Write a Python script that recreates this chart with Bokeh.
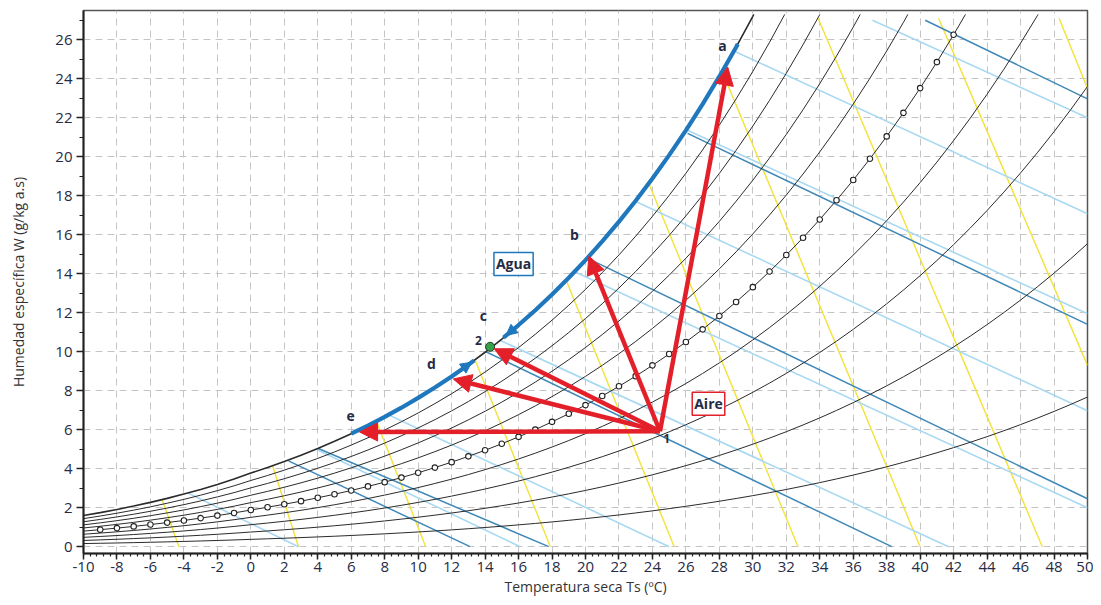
import numpy as np
from bokeh.plotting import figure
from bokeh.models import Range1d, FixedTicker, Arrow, NormalHead, Label
from bokeh.embed import file_html
from bokeh.resources import INLINE

# ---------------- data ----------------
# saturation vapour pressure (kPa), -10..50 degC (over ice below 0 degC)
temps = list(range(-10, 51))
psat = [0.2599, 0.2839, 0.3100, 0.3382, 0.3687, 0.4019, 0.4375, 0.4761, 0.5177, 0.5623,
        0.6112, 0.6571, 0.7060, 0.7581, 0.8135, 0.8725, 0.9353, 1.0020, 1.0729, 1.1481,
        1.2280, 1.3128, 1.4026, 1.4979, 1.5987, 1.7055, 1.8185, 1.9380, 2.0643, 2.1978,
        2.3388, 2.4877, 2.6448, 2.8104, 2.9851, 3.1692, 3.3631, 3.5673, 3.7822, 4.0083,
        4.2460, 4.4959, 4.7585, 5.0343, 5.3239, 5.6278, 5.9466, 6.2810, 6.6315, 6.9987,
        7.3835, 7.7863, 8.2080, 8.6492, 9.1107, 9.5932, 10.0976, 10.6246, 11.1751, 11.7500, 12.3499]
rh_levels = [10, 20, 30, 40, 50, 60, 70, 80, 90, 100]
marked_rh = 50
marked_temps = list(range(-9, 43))
P_ATM = 101.325
W_TOP = 27.3

# specific-volume lines (yellow): start / end
yel_x0 = [-5.3, 1.3, 7.5, 13.4, 18.85, 23.8, 28.2, 33.9, 41.1, 48.3]
yel_y0 = [2.42, 4.15, 6.43, 9.58, 13.65, 18.6, 24.3, 27.1, 27.1, 27.1]
yel_x1 = [-4.3, 2.85, 10.45, 17.9, 25.3, 32.7, 40.0, 47.3, 50.0, 50.0]
yel_y1 = [0, 0, 0, 0, 0, 0, 0, 0, 9.3, 23.5]

# light blue lines
lb_x0 = [-3.75, 3.9, 8.35, 14.85, 19.35, 23.0, 26.0, 28.97, 37.15]
lb_y0 = [2.75, 5.0, 6.72, 10.6, 14.1, 17.7, 21.4, 25.38, 27.0]
lb_x1 = [2.85, 16.1, 25.0, 41.7, 50.0, 50.0, 50.0, 50.0, 50.0]
lb_y1 = [0, 0, 0, 0, 2.0, 6.97, 11.95, 17.08, 22.0]

# dark blue lines
db_x0 = [2.25, 4.0, 14.05, 20.1, 26.1, 40.3]
db_y0 = [4.4, 5.05, 10.0, 14.8, 21.2, 27.0]
db_x1 = [13.1, 17.8, 38.3, 50.0, 50.0, 50.0]
db_y1 = [0, 0, 0, 2.46, 11.4, 22.97]

# process points
pt1 = (24.45, 5.92)
red_tips_x = [28.5, 20.2, 14.55, 12.1, 6.5]
red_tips_y = [24.6, 14.9, 10.15, 8.6, 5.88]
pt2 = (14.3, 10.25)
agua_upper = (15.1, 29.1)   # temperature span on saturation curve
agua_lower = (6.0, 13.35)
agua_arrow_tips = [15.25, 13.2]

letters = ["a", "b", "c", "d", "e"]
letters_x = [28.19, 19.34, 13.9, 10.8, 5.96]
letters_y = [25.7, 16.0, 11.85, 9.38, 6.72]
num_labels = ["1", "2"]
num_x = [24.85, 13.6]
num_y = [5.55, 10.6]

x_ticks = list(range(-10, 51, 2))
y_ticks = list(range(0, 27, 2))
x_title = "Temperatura seca Ts (ºC)"
y_title = "Humedad específica W (g/kg a.s)"

# ---------------- helpers ----------------
def w_g(pv):
    return 622.0 * pv / (P_ATM - pv)

def wsat(T):
    return w_g(np.interp(T, temps, psat))

def rh_curve(rh):
    xs, ys = [], []
    for T, ps in zip(temps, psat):
        w = w_g(rh / 100.0 * ps)
        if w > W_TOP:
            T0, w0 = xs[-1], ys[-1]
            f = (W_TOP - w0) / (w - w0)
            xs.append(T0 + f * (T - T0))
            ys.append(W_TOP)
            break
        xs.append(T)
        ys.append(w)
    return xs, ys

def sat_path(t0, t1):
    xs = [t0] + [t for t in temps if t0 < t < t1] + [t1]
    return xs, [float(wsat(t)) for t in xs]

# ---------------- figure ----------------
FONT = "Open Sans"
TXT = "#262b45"

p = figure(width=1093, height=605, output_backend="svg", toolbar_location=None,
           x_range=Range1d(-10, 50), y_range=Range1d(-0.35, 27.5),
           min_border_left=83, min_border_right=6, min_border_top=10, min_border_bottom=52)
p.background_fill_color = "white"
p.border_fill_color = "white"
p.outline_line_color = "#555555"
p.outline_line_width = 1.5

p.xaxis.ticker = FixedTicker(ticks=x_ticks, minor_ticks=list(np.round(np.arange(-10, 50.01, 0.4), 2)))
p.yaxis.ticker = FixedTicker(ticks=y_ticks, minor_ticks=list(range(0, 28)))
p.xaxis.major_label_overrides = {t: str(t) for t in x_ticks}
for ax in (p.xaxis[0], p.yaxis[0]):
    ax.axis_line_color = "#222222"
    ax.axis_line_width = 2
    ax.major_tick_line_color = "#222222"
    ax.major_tick_line_width = 1.5
    ax.minor_tick_line_color = "#222222"
    ax.minor_tick_line_width = 1.2
    ax.major_tick_in = 0
    ax.minor_tick_in = 0
    ax.major_label_text_font = FONT
    ax.major_label_text_font_size = "15px"
    ax.major_label_text_color = TXT
    ax.axis_label_text_font = FONT
    ax.axis_label_text_font_size = "14px"
    ax.axis_label_text_font_style = "normal"
    ax.axis_label_text_color = "#333333"
p.xaxis.major_tick_out = 6
p.xaxis.minor_tick_out = 3
p.yaxis.major_tick_out = 7
p.yaxis.minor_tick_out = 4
p.xaxis.major_label_standoff = 2
p.yaxis.major_label_standoff = 4
p.xaxis.axis_label = x_title
p.xaxis.axis_label_standoff = 2
p.yaxis.axis_label = y_title
p.yaxis.axis_label_standoff = 24

for g in (p.xgrid[0], p.ygrid[0]):
    g.grid_line_color = "#c4c4c4"
    g.grid_line_width = 1
    g.grid_line_dash = "7 5"
p.xgrid.ticker = FixedTicker(ticks=x_ticks)
p.ygrid.ticker = FixedTicker(ticks=y_ticks)

# yellow, blue families
p.segment(yel_x0, yel_y0, yel_x1, yel_y1, line_color="#f3e23a", line_width=1.4)
p.segment(lb_x0, lb_y0, lb_x1, lb_y1, line_color="#a9d9f2", line_width=1.6)
p.segment(db_x0, db_y0, db_x1, db_y1, line_color="#3f88b8", line_width=1.5)

# relative humidity curves
for rh in rh_levels:
    xs, ys = rh_curve(rh)
    p.line(xs, ys, line_color="#2b2b2b", line_width=1.6 if rh == 100 else 1.0)

# markers on 50 % curve
my = [w_g(marked_rh / 100.0 * psat[temps.index(t)]) for t in marked_temps]
p.scatter(marked_temps, my, size=5.5, marker="circle", fill_color="white", line_color="#222222", line_width=1.1)

# water path on saturation curve
BLUE = "#1f78bd"
for (t0, t1) in (agua_upper, agua_lower):
    xs, ys = sat_path(t0, t1)
    p.line(xs, ys, line_color=BLUE, line_width=4.2)
tip_u, tip_l = agua_arrow_tips
p.add_layout(Arrow(end=NormalHead(size=11, fill_color=BLUE, line_color=BLUE, line_width=1),
                   x_start=tip_u + 0.6, y_start=float(wsat(tip_u + 0.6)), x_end=tip_u, y_end=float(wsat(tip_u)),
                   line_color=BLUE, line_width=3))
p.add_layout(Arrow(end=NormalHead(size=11, fill_color=BLUE, line_color=BLUE, line_width=1),
                   x_start=tip_l - 0.6, y_start=float(wsat(tip_l - 0.6)), x_end=tip_l, y_end=float(wsat(tip_l)),
                   line_color=BLUE, line_width=3))

# air process arrows
RED = "#e3202a"
for tx, ty in zip(red_tips_x, red_tips_y):
    p.add_layout(Arrow(end=NormalHead(size=18, fill_color=RED, line_color=RED, line_width=1),
                       x_start=pt1[0], y_start=pt1[1], x_end=tx, y_end=ty,
                       line_color=RED, line_width=4.5))

p.scatter([pt2[0]], [pt2[1]], size=9, fill_color="#36a04a", line_color="#1c3d22", line_width=1)

# labels
for t, x, y in zip(letters, letters_x, letters_y):
    p.add_layout(Label(x=x, y=y, text=t, text_font=FONT, text_font_size="14px", text_font_style="bold",
                       text_color=TXT, text_align="center", text_baseline="middle"))
for t, x, y in zip(num_labels, num_x, num_y):
    p.add_layout(Label(x=x, y=y, text=t, text_font=FONT, text_font_size="12px", text_font_style="bold",
                       text_color=TXT, text_align="center", text_baseline="middle"))
p.add_layout(Label(x=15.7, y=14.5, text="Agua", text_font=FONT, text_font_size="14px", text_font_style="bold",
                   text_color=TXT, text_align="center", text_baseline="middle",
                   background_fill_color="white", border_line_color=BLUE, border_line_width=1.5, padding=2))
p.add_layout(Label(x=27.35, y=7.33, text="Aire", text_font=FONT, text_font_size="14px", text_font_style="bold",
                   text_color=TXT, text_align="center", text_baseline="middle",
                   background_fill_color="white", border_line_color=RED, border_line_width=1.5, padding=2))

open("out.html", "w").write(file_html(p, INLINE))
